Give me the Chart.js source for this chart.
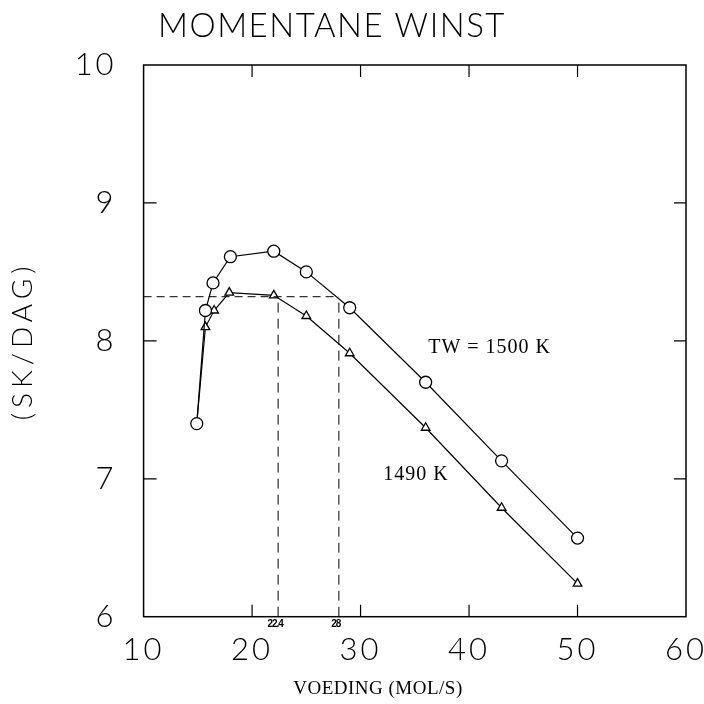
<!DOCTYPE html>
<html>
<head>
<meta charset="utf-8">
<title>Momentane winst</title>
<script src="https://cdn.jsdelivr.net/npm/chart.js@4/dist/chart.umd.min.js"></script>
<style>
  html, body { margin: 0; padding: 0; background: #fff; }
  #wrap { width: 704px; height: 704px; }
</style>
</head>
<body>
<div id="wrap"><canvas id="graficoWinst" width="704" height="704"></canvas></div>
<script>
// data
var voedingCirkel = [14.9, 15.7, 16.4, 18.0, 22.0, 25.0, 29.0, 36.0, 43.0, 50.0];
var winst1500 = [7.40, 8.22, 8.42, 8.61, 8.65, 8.50, 8.24, 7.70, 7.13, 6.57];
var voedingDriehoek = [14.9, 15.7, 16.5, 17.9, 22.0, 25.0, 29.0, 36.0, 43.0, 50.0];
var winst1490 = [7.40, 8.10, 8.22, 8.35, 8.33, 8.18, 7.91, 7.37, 6.79, 6.24];
var xTicks = [10, 20, 30, 40, 50, 60];
var yTicks = [6, 7, 8, 9, 10];
var refVoeding = [22.4, 28];
var refWinst = 8.32;
var labels = {
  titel: 'MOMENTANE WINST',
  xAs: 'VOEDING (MOL/S)',
  yAs: '(SK/DAG)',
  tw1500: 'TW = 1500 K',
  tw1490: '1490 K'
};

var Grafiek = (function() {

  function Grafiek() {
    this.ctx = document.getElementById('graficoWinst').getContext('2d');
  }

  function punten(xs, ys) {
    return xs.map(function(x, i) { return { x: x, y: ys[i] }; });
  }

  // thin plotter-like letters for the tick labels
  var spatie = {
    id: 'spatie',
    beforeDraw: function(chart) { chart.ctx.letterSpacing = '3px'; },
    afterDraw: function(chart) { chart.ctx.letterSpacing = '0px'; }
  };

  // frame, inward ticks and loose texts
  var extraTekst = {
    id: 'extraTekst',
    afterDatasetsDraw: function(chart) {
      var c = chart.ctx, a = chart.chartArea;
      var sx = chart.scales.x, sy = chart.scales.y;
      c.save();
      c.strokeStyle = '#000';
      c.lineWidth = 1.5;
      c.strokeRect(a.left, a.top, a.right - a.left, a.bottom - a.top);
      c.lineWidth = 1.2;
      c.beginPath();
      xTicks.slice(1, -1).forEach(function(v) {
        var px = sx.getPixelForValue(v);
        c.moveTo(px, a.bottom); c.lineTo(px, a.bottom - 12);
        c.moveTo(px, a.top); c.lineTo(px, a.top + 12);
      });
      yTicks.slice(1, -1).forEach(function(v) {
        var py = sy.getPixelForValue(v);
        c.moveTo(a.left, py); c.lineTo(a.left + 13, py);
        c.moveTo(a.right, py); c.lineTo(a.right - 12, py);
      });
      c.stroke();

      c.fillStyle = '#000';
      c.textAlign = 'center';
      c.textBaseline = 'middle';
      c.font = '300 33px Lato';
      c.letterSpacing = '1.5px';
      c.fillText(labels.titel, 332, 26);

      c.save();
      c.translate(23, (a.top + a.bottom) / 2);
      c.rotate(-Math.PI / 2);
      c.font = '300 28px Lato';
      c.letterSpacing = '5px';
      c.fillText(labels.yAs, 0, 0);
      c.restore();

      c.font = '19px "Liberation Serif"';
      c.letterSpacing = '0.5px';
      c.fillText(labels.xAs, 378, 689);

      c.font = '20px "Liberation Serif"';
      c.letterSpacing = '1px';
      c.fillText(labels.tw1500, sx.getPixelForValue(41.9), sy.getPixelForValue(7.95));
      c.fillText(labels.tw1490, sx.getPixelForValue(35.1), sy.getPixelForValue(7.03));

      c.font = 'bold 10px "Liberation Sans"';
      c.letterSpacing = '-1px';
      refVoeding.forEach(function(v) {
        c.fillText(String(v), sx.getPixelForValue(v) - 3, a.bottom + 8);
      });
      c.restore();
    }
  };

  Grafiek.prototype.iniciar = function() {
    var refLijnen = [{
      data: [{ x: 10, y: refWinst }, { x: refVoeding[1], y: refWinst }],
      borderDash: [8, 5]
    }].concat(refVoeding.map(function(v) {
      return { data: [{ x: v, y: 6 }, { x: v, y: refWinst }], borderDash: [10, 6] };
    })).map(function(d) {
      d.borderColor = '#000';
      d.borderWidth = 1;
      d.pointRadius = 0;
      d.fill = false;
      return d;
    });

    var straal = winst1490.map(function(v, i) { return i === 0 ? 0 : 5; });

    new Chart(this.ctx, {
      type: 'line',
      data: {
        datasets: [{
          label: 'TW = 1500 K',
          data: punten(voedingCirkel, winst1500),
          borderColor: '#000',
          borderWidth: 1.2,
          pointStyle: 'circle',
          pointRadius: 6,
          pointBorderColor: '#000',
          pointBorderWidth: 1.3,
          pointBackgroundColor: '#fff',
          order: 1
        }, {
          label: '1490 K',
          data: punten(voedingDriehoek, winst1490),
          borderColor: '#000',
          borderWidth: 1.2,
          pointStyle: 'triangle',
          pointRadius: straal,
          pointBorderColor: '#000',
          pointBorderWidth: 1.3,
          pointBackgroundColor: '#fff',
          order: 2
        }].concat(refLijnen)
      },
      options: {
        responsive: false,
        animation: false,
        layout: { padding: { top: 65, right: 0, left: 0, bottom: 0 } },
        plugins: {
          legend: { display: false },
          tooltip: { enabled: false },
          title: { display: false }
        },
        scales: {
          x: {
            type: 'linear',
            min: 10,
            max: 60,
            afterBuildTicks: function(s) { s.ticks = xTicks.map(function(v) { return { value: v }; }); },
            afterFit: function(s) {
              s.height = 87.3;
              s.paddingLeft = 0;
              s.paddingRight = 18;
            },
            grid: { display: false, drawTicks: false },
            border: { display: false },
            ticks: {
              color: '#000',
              padding: 15,
              maxRotation: 0,
              font: { family: 'Lato', size: 31, weight: 300 }
            }
          },
          y: {
            type: 'linear',
            min: 6,
            max: 10,
            afterBuildTicks: function(s) { s.ticks = yTicks.map(function(v) { return { value: v }; }); },
            afterFit: function(s) { s.width = 143.6; },
            grid: { display: false, drawTicks: false },
            border: { display: false },
            ticks: {
              color: '#000',
              padding: 27,
              font: { family: 'Lato', size: 31, weight: 300 }
            }
          }
        }
      },
      plugins: [spatie, extraTekst]
    });
  };

  return Grafiek;

}());

var grafiek = new Grafiek();
grafiek.iniciar();
</script>
</body>
</html>
